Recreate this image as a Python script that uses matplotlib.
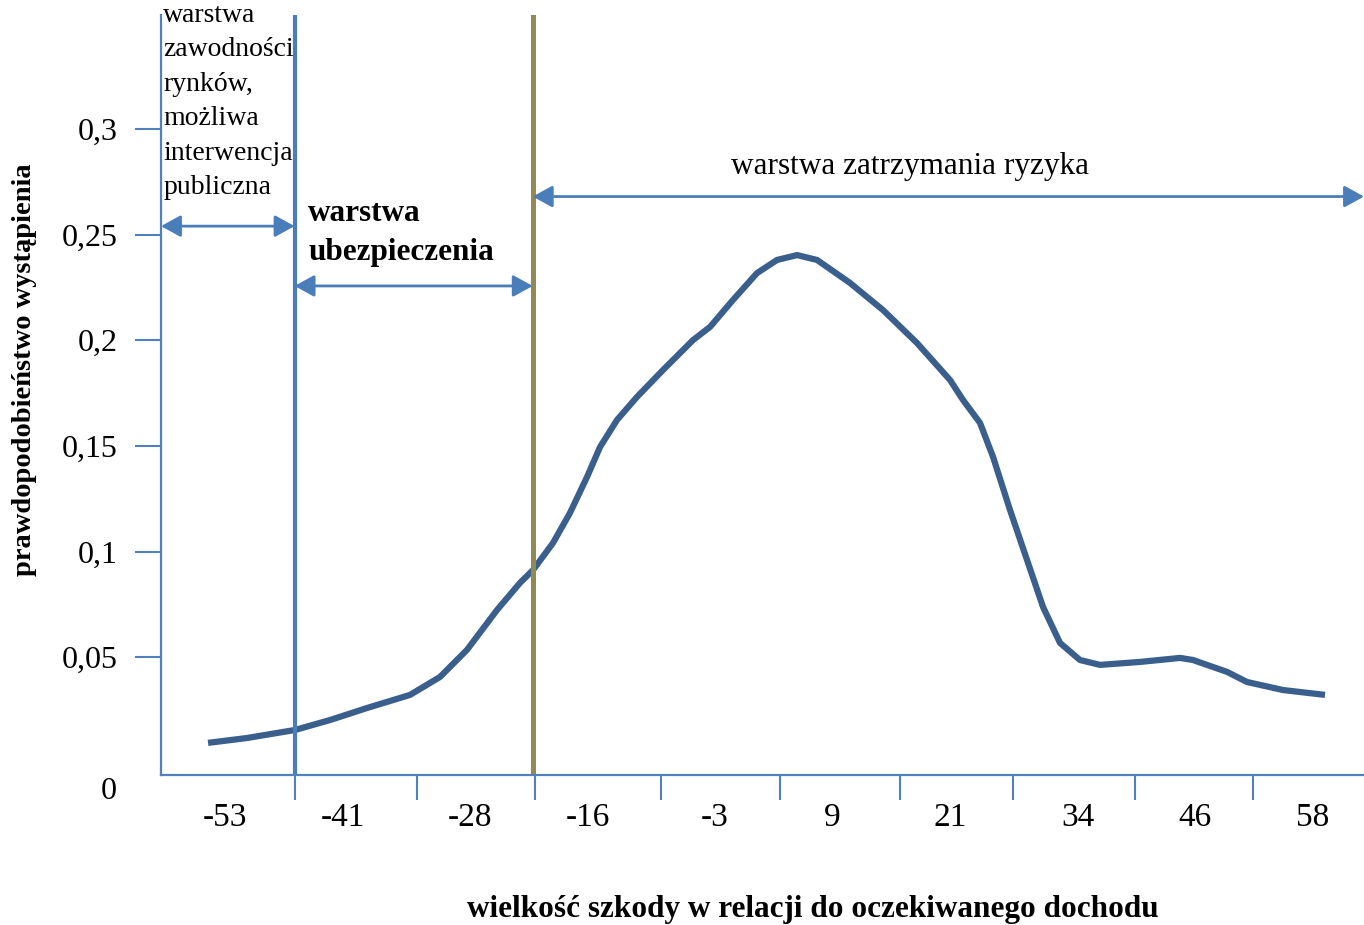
import numpy as np
import matplotlib.pyplot as plt

# loss size relative to expected income (tick labels) and curve
szkoda = [-53, -41, -28, -16, -3, 9, 21, 34, 46, 58]
krzywa_x = [-54.73, -50.76, -45.86, -42.29, -38.51, -34.12, -31.06, -28.31, -25.24, -22.90,
            -21.57, -19.53, -17.80, -16.06, -14.73, -13.00, -10.96, -8.31, -5.24, -3.51,
            -1.16, 1.29, 3.33, 5.37, 7.41, 10.78, 14.14, 17.61, 20.98, 22.31,
            24.04, 25.37, 27.10, 28.84, 30.47, 32.20, 34.24, 36.29, 40.37, 44.45,
            45.78, 49.24, 51.29, 54.96, 59.24]
krzywa_y = [0.0095, 0.0118, 0.0156, 0.0203, 0.0260, 0.0322, 0.0407, 0.0535, 0.0724, 0.0852,
            0.0913, 0.1041, 0.1183, 0.1353, 0.1495, 0.1623, 0.1732, 0.1859, 0.2001, 0.2063,
            0.2191, 0.2318, 0.2380, 0.2403, 0.2380, 0.2271, 0.2143, 0.1987, 0.1812, 0.1717,
            0.1609, 0.1448, 0.1197, 0.0960, 0.0738, 0.0568, 0.0487, 0.0464, 0.0478, 0.0497,
            0.0487, 0.0431, 0.0383, 0.0345, 0.0322]
y_ticks = [0.05, 0.1, 0.15, 0.2, 0.25, 0.3]
y_labels = ['0,05', '0,1', '0,15', '0,2', '0,25', '0,3']
podzialki = [-45.9, -33.4, -21.4, -8.5, 3.6, 15.9, 27.4, 39.9, 51.9]  # small ticks on x axis
granice = [-45.9, -21.6]  # layer boundaries
strzalki_y = [0.254, 0.2257, 0.268]

niebieski = '#4f81bd'
plt.rcParams['font.family'] = ['Liberation Serif', 'DejaVu Serif']

fig = plt.figure(figsize=(13.64, 9.25), dpi=100)
ax = fig.add_axes([161/1364, 1-775/925, 1203/1364, 760/925])
ax.set_xlim(-59.53, 63.22)
ax.set_ylim(-0.0057, 0.3539)

ax.plot(krzywa_x, krzywa_y, color='#3a5f8d', lw=4.5, solid_capstyle='butt', solid_joinstyle='round')

ax.axvline(granice[0], color='#4a7ebb', lw=3)
ax.axvline(granice[1], color='#938953', lw=3.6)

for a, b, y in zip([-59.53, granice[0], granice[1]], [granice[0], granice[1], 63.22], strzalki_y):
    ax.annotate('', xy=(b, y), xytext=(a, y),
                arrowprops=dict(arrowstyle='<|-|>,head_length=0.4,head_width=0.22', color='#4a7ebb',
                                lw=2, mutation_scale=30, shrinkA=0, shrinkB=0), annotation_clip=False)

ax.text(-59.3, 0.3598, 'warstwa\nzawodności\nrynków,\nmożliwa\ninterwencja\npubliczna',
        fontsize=20, va='top', ha='left', linespacing=1.5, clip_on=False)
ax.text(-44.5, 0.267, 'warstwa\nubezpieczenia', fontsize=22.5, fontweight='bold',
        va='top', ha='left', linespacing=1.45)
ax.text(16.9, 0.2824, 'warstwa zatrzymania ryzyka', fontsize=22.5, va='center', ha='center')

for s in ['top', 'right']:
    ax.spines[s].set_visible(False)
for s in ['left', 'bottom']:
    ax.spines[s].set_color(niebieski)
    ax.spines[s].set_linewidth(1.6)

ax.set_xticks(szkoda)
ax.set_xticklabels([str(v) for v in szkoda], fontsize=24)
ax.set_xticks(podzialki, minor=True)
ax.tick_params(axis='x', which='major', length=0, pad=20)
ax.tick_params(axis='x', which='minor', length=18, width=1.5, color=niebieski, direction='out')
ax.set_yticks(y_ticks)
ax.set_yticklabels(y_labels, fontsize=23)
ax.tick_params(axis='y', length=19, width=1.5, color=niebieski, direction='out', pad=12)
ax.text(-0.037, -0.003, '0', transform=ax.transAxes, fontsize=23, ha='right', va='top')

fig.text(25/1364, 1-370/925, 'prawdopodobieństwo wystąpienia', rotation=90, fontsize=20.5,
         fontweight='bold', ha='center', va='center')
fig.text(813/1364, 1-910/925, 'wielkość szkody w relacji do oczekiwanego dochodu', fontsize=22.5,
         fontweight='bold', ha='center', va='center')

fig.savefig('out.png', dpi=100)
